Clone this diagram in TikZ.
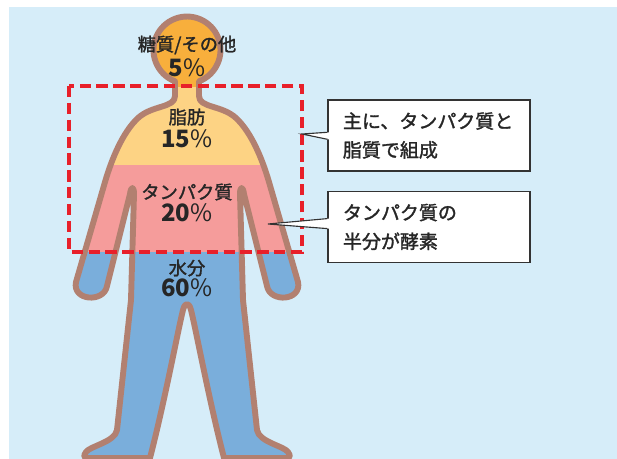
\documentclass[tikz,border=0pt]{standalone}
\usepackage{fontspec}
\setmainfont{Noto Sans CJK JP}
\newfontfamily\jpmed{Noto Sans CJK JP}[FakeBold=1.6]
\usetikzlibrary{calc, positioning}
\definecolor{skybg}{RGB}{214, 237, 249}
\definecolor{skinline}{RGB}{178, 128, 112}
\definecolor{headorange}{RGB}{248, 175, 60}
\definecolor{fatyellow}{RGB}{253, 211, 132}
\definecolor{protpink}{RGB}{245, 156, 155}
\definecolor{waterblue}{RGB}{122, 174, 219}
\definecolor{markred}{RGB}{232, 32, 42}

\begin{document}
\begin{tikzpicture}[x=0.025cm, y=0.025cm,
	partname/.style={font=\jpmed\fontsize{13}{15}\selectfont, text=black!85},
	partpct/.style={font=\fontsize{17}{19}\selectfont\bfseries, text=black!85},
	callout/.style={draw=black!80, line width=0.8pt, fill=white, text width=4.3cm,
		inner xsep=0.375cm, minimum height=1.775cm, align=left,
		font=\jpmed\fontsize{13.5}{20.5}\selectfont, text=black!85}]
	\def\bodyshape{(175,-81.3) -- (175,-96)
		.. controls (175,-108) and (152,-105) .. (138,-118)
		.. controls (123,-132) and (112,-158) .. (105,-182)
		-- (76,-282)
		.. controls (72,-301) and (104,-303) .. (107,-286)
		-- (130,-194)
		.. controls (131,-186) and (134,-186) .. (134,-194)
		-- (131,-300) -- (117,-430)
		.. controls (115,-442) and (90,-446) .. (86,-452)
		.. controls (83,-456) and (84,-458) .. (88,-458)
		-- (150,-458)
		.. controls (165,-400) and (178,-330) .. (183,-310)
		.. controls (185,-302) and (189,-302) .. (191,-310)
		.. controls (196,-330) and (209,-400) .. (224,-458)
		-- (286,-458)
		.. controls (290,-458) and (291,-456) .. (288,-452)
		.. controls (284,-446) and (259,-442) .. (257,-430)
		-- (243,-300) -- (240,-194)
		.. controls (240,-186) and (243,-186) .. (244,-194)
		-- (267,-286)
		.. controls (270,-303) and (302,-301) .. (298,-282)
		-- (269,-182)
		.. controls (262,-158) and (251,-132) .. (236,-118)
		.. controls (222,-105) and (199,-108) .. (199,-96)
		-- (199,-81.3)
		arc[start angle=-69, end angle=249, radius=33.5] -- cycle}

	\useasboundingbox (0,0) rectangle (617,-459);
	\fill[skybg] (8.7,-7) rectangle (617,-459);

	\begin{scope}
		\clip (8.7,-7) rectangle (617,-459);
		\fill[waterblue] \bodyshape;
		\begin{scope}
			\clip \bodyshape;
			\fill[headorange] (100,0) rectangle (300,-87);
			\fill[fatyellow] (50,-87) rectangle (320,-165);
			\fill[protpink] (50,-165) rectangle (320,-252);
		\end{scope}
		\draw[skinline, line width=4.2pt, line join=round] \bodyshape;
	\end{scope}

	\node[partname] (sugarname) at (187,-45) {糖質/その他};
	\node[partpct] (sugarpct) at (187,-68) {5{\mdseries\%}};
	\node[partname] (fatname) at (187,-117) {脂肪};
	\node[partpct] (fatpct) at (187,-139) {15{\mdseries\%}};
	\node[partname] (protname) at (187,-192) {タンパク質};
	\node[partpct] (protpct) at (187,-213) {20{\mdseries\%}};
	\node[partname] (watername) at (187,-268) {水分};
	\node[partpct] (waterpct) at (187,-288) {60{\mdseries\%}};

	\draw[markred, line width=2.4pt, dash pattern=on 8pt off 4pt] (69,-86) rectangle (302,-252);

	\coordinate (fattip) at (302,-134);
	\coordinate (enztip) at (268,-224);
	\node[callout] (fatnote) at (429,-135.5) {主に、タンパク質と\\脂質で組成};
	\node[callout] (enznote) at (429,-227) {タンパク質の\\半分が酵素};

	\fill[white] ($(fatnote.west)+(2,3.2)$) -- ($(fatnote.west)+(0,3.2)$) -- (fattip)
		-- ($(fatnote.west)+(0,-3.8)$) -- ($(fatnote.west)+(2,-3.8)$) -- cycle;
	\draw[black!80, line width=0.8pt] ($(fatnote.west)+(0,3.2)$) -- (fattip) -- ($(fatnote.west)+(0,-3.8)$);
	\fill[white] ($(enznote.west)+(2,8.4)$) -- ($(enznote.west)+(0,8.4)$) -- (enztip)
		-- ($(enznote.west)+(0,-1.6)$) -- ($(enznote.west)+(2,-1.6)$) -- cycle;
	\draw[black!80, line width=0.8pt] ($(enznote.west)+(0,8.4)$) -- (enztip) -- ($(enznote.west)+(0,-1.6)$);
\end{tikzpicture}
\end{document}
